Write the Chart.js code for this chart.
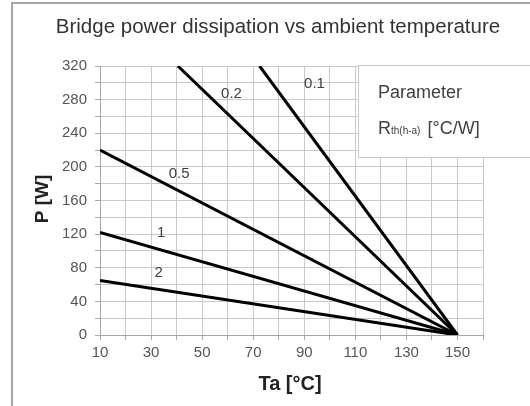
<!DOCTYPE html>
<html>
<head>
<meta charset="utf-8">
<script src="https://cdn.jsdelivr.net/npm/chart.js@4"></script>
<style>
    html, body { margin: 0; padding: 0; background: #fff; }
    #wrap { width: 530px; height: 406px; position: relative; }
</style>
</head>
<body>
<div id="wrap"><canvas id="powerChart"></canvas></div>
<script>
// one line per Rth(h-a) value, all ending at (150 °C, 0 W)
const rthLabels = ['2', '1', '0.5', '0.2', '0.1'];
const taStart = [10, 10, 10, 40.5, 72.5];
const pStart = [65, 122, 220, 320, 320];
const taEnd = [150, 150, 150, 150, 150];
const pEnd = [0, 0, 0, 0, 0];

// where the Rth value is written next to each line
const labelTa = [33, 34, 41, 61.5, 94];
const labelP = [74, 121, 192, 287, 299];

const xTicks = [10, 30, 50, 70, 90, 110, 130, 150];
const yTicks = [0, 40, 80, 120, 160, 200, 240, 280, 320];

const FONT = "'Liberation Sans', Arial, sans-serif";

const datasets = rthLabels.map((r, i) => ({
    label: r,
    data: [
        { x: taStart[i], y: pStart[i] },
        { x: taEnd[i], y: pEnd[i] }
    ],
    showLine: true,
    borderColor: '#000',
    borderWidth: 3,
    pointRadius: 0,
    fill: false
}));

const decorations = {
    id: 'decorations',
    beforeDraw(chart) {
        const ctx = chart.ctx;
        ctx.save();
        ctx.fillStyle = '#fff';
        ctx.fillRect(0, 0, chart.width, chart.height);
        ctx.restore();
    },
    afterDraw(chart) {
        const ctx = chart.ctx;
        const xs = chart.scales.x;
        const ys = chart.scales.y;
        ctx.save();

        // outer frame
        ctx.strokeStyle = '#a6a6a6';
        ctx.lineWidth = 2;
        ctx.beginPath();
        ctx.moveTo(12, 406);
        ctx.lineTo(12, 3);
        ctx.lineTo(530, 3);
        ctx.stroke();

        // title
        ctx.fillStyle = '#333';
        ctx.font = '20.5px ' + FONT;
        ctx.textAlign = 'center';
        ctx.textBaseline = 'alphabetic';
        ctx.fillText('Bridge power dissipation vs ambient temperature', 278, 33);

        // axis titles
        ctx.font = 'bold 20px ' + FONT;
        ctx.fillStyle = '#222';
        ctx.fillText('Ta [°C]', 290, 390);
        ctx.save();
        ctx.translate(43, 199);
        ctx.rotate(-Math.PI / 2);
        ctx.textBaseline = 'middle';
        ctx.font = 'bold 19px ' + FONT;
        ctx.fillText('P [W]', 0, 0);
        ctx.restore();

        // value labels on the lines
        ctx.font = '15px ' + FONT;
        ctx.fillStyle = '#404040';
        ctx.textAlign = 'center';
        ctx.textBaseline = 'middle';
        rthLabels.forEach((r, i) => {
            ctx.fillText(r, xs.getPixelForValue(labelTa[i]), ys.getPixelForValue(labelP[i]));
        });

        // parameter box
        ctx.fillStyle = '#fff';
        ctx.fillRect(358, 65, 180, 92);
        ctx.strokeStyle = '#c8c8c8';
        ctx.lineWidth = 1;
        ctx.strokeRect(358.5, 65.5, 180, 92);

        ctx.fillStyle = '#404040';
        ctx.textAlign = 'left';
        ctx.textBaseline = 'alphabetic';
        ctx.font = '18px ' + FONT;
        ctx.fillText('Parameter', 378, 98);
        ctx.fillText('R', 378, 134);
        let w = ctx.measureText('R').width;
        ctx.font = '10px ' + FONT;
        ctx.fillText('th(h-a)', 378 + w, 134);
        w += ctx.measureText('th(h-a)').width;
        ctx.font = '18px ' + FONT;
        ctx.fillText(' [°C/W]', 378 + w + 2, 134);

        ctx.restore();
    }
};

new Chart(
    document.getElementById('powerChart'),
    {
        type: 'scatter',
        data: { datasets: datasets },
        options: {
            responsive: true,
            maintainAspectRatio: false,
            animation: false,
            layout: { padding: { top: 66, right: 47, left: 0, bottom: 0 } },
            plugins: {
                legend: { display: false },
                title: { display: false },
                tooltip: { enabled: false }
            },
            scales: {
                x: {
                    type: 'linear',
                    min: 10,
                    max: 160,
                    afterFit(scale) { scale.height = 71; },
                    ticks: {
                        stepSize: 10,
                        autoSkip: false,
                        maxRotation: 0,
                        padding: 4,
                        color: '#555',
                        font: { family: FONT, size: 15 },
                        callback: v => xTicks.includes(v) ? v : ''
                    },
                    grid: { color: '#cacaca', lineWidth: 1, tickLength: 5, tickColor: '#a6a6a6' },
                    border: { color: '#a6a6a6', width: 1 }
                },
                y: {
                    min: 0,
                    max: 320,
                    afterFit(scale) { scale.width = 100; },
                    ticks: {
                        stepSize: 20,
                        autoSkip: false,
                        padding: 8,
                        color: '#555',
                        font: { family: FONT, size: 15 },
                        callback: v => yTicks.includes(v) ? v : ''
                    },
                    grid: { color: '#cacaca', lineWidth: 1, tickLength: 5, tickColor: '#a6a6a6' },
                    border: { color: '#a6a6a6', width: 1 }
                }
            }
        },
        plugins: [decorations]
    }
);
</script>
</body>
</html>
